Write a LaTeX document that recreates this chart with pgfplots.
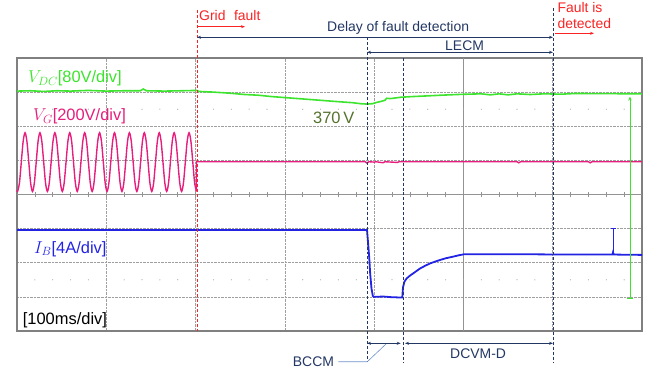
\documentclass[border=0pt]{standalone}
\usepackage{pgfplots}
\pgfplotsset{compat=1.18}
\usepackage{fontspec}
\setmainfont{Liberation Sans}
\usetikzlibrary{arrows.meta}
\definecolor{vdc}{RGB}{60,228,45}
\definecolor{vg}{RGB}{230,30,125}
\definecolor{ib}{RGB}{35,35,228}
\definecolor{navy}{RGB}{35,55,100}
\definecolor{fred}{RGB}{250,35,35}
\definecolor{olivetxt}{RGB}{85,115,45}
\definecolor{callout}{RGB}{110,145,200}
\definecolor{framec}{RGB}{128,128,128}
\newcommand\fa{\fontsize{14}{16}\selectfont}
\newcommand\fb{\fontsize{16.5}{18}\selectfont}
\begin{document}
\begin{tikzpicture}[x=1bp,y=1bp]
\path[use as bounding box] (0,0) rectangle (650,371);
\begin{axis}[at={(17bp,40bp)}, anchor=south west,
  width=625bp, height=273bp, scale only axis,
  xmin=0, xmax=700, ymin=-4, ymax=4,
  xtick={100,200,...,600}, ytick={-3,-2,...,3},
  xticklabel=\empty, yticklabel=\empty,
  tick style={draw=none},
  grid=major, grid style={densely dotted, gray!75, line width=0.6pt},
  axis line style={draw=framec, line width=1.4pt},
  clip=false]
% centre lines and ticks
\draw[gray!85, line width=0.8pt] (axis cs:0,0) -- (axis cs:700,0);
\draw[gray!85, line width=0.8pt] (axis cs:500,-4) -- (axis cs:500,4);
\pgfplotsinvokeforeach{20,40,...,680}{
  \draw[gray!85, line width=0.6pt] (axis cs:#1,-0.08) -- (axis cs:#1,0.08);
  \fill[gray!70] (axis cs:#1,2.5) circle (0.6bp);
  \fill[gray!70] (axis cs:#1,-2.5) circle (0.6bp);
}
% V_DC
\addplot[vdc, line width=1.6pt] coordinates {
(0,3.03)(15,3.04)(30,3.02)(45,3.04)(60,3.03)(80,3.05)(100,3.03)(120,3.04)(138,3.04)(141.5,3.09)(145,3.04)(165,3.03)(185,3.04)(201,3.05)(204,3.02)(220,3.0)(238,2.97)(255,2.93)(270,2.91)(285,2.87)(300,2.84)(315,2.81)(330,2.78)(350,2.74)(365,2.71)(376,2.69)(385,2.66)(392,2.65)(398,2.66)(403,2.70)(408,2.73)(412,2.76)(414,2.82)(418,2.81)(430,2.85)(443,2.87)(460,2.89)(475,2.91)(493,2.93)(505,2.94)(520,2.95)(530,2.92)(540,2.95)(550,2.92)(560,2.95)(575,2.93)(590,2.95)(610,2.94)(625,2.96)(700,2.95)};
% V_G sine before the fault
\addplot[vg, line width=1.4pt, smooth] coordinates {
(0,0.12)(0.65,0.09)(2.74,0.34)(4.82,0.95)(6.91,1.56)
(9,1.81)(11.09,1.56)(13.18,0.95)(15.26,0.34)(17.35,0.09)(19.44,0.34)(21.53,0.95)(23.61,1.56)
(25.7,1.81)(27.79,1.56)(29.88,0.95)(31.96,0.34)(34.05,0.09)(36.14,0.34)(38.23,0.95)(40.31,1.56)
(42.4,1.81)(44.49,1.56)(46.58,0.95)(48.66,0.34)(50.75,0.09)(52.84,0.34)(54.93,0.95)(57.01,1.56)
(59.1,1.81)(61.19,1.56)(63.28,0.95)(65.36,0.34)(67.45,0.09)(69.54,0.34)(71.63,0.95)(73.71,1.56)
(75.8,1.81)(77.89,1.56)(79.98,0.95)(82.06,0.34)(84.15,0.09)(86.24,0.34)(88.33,0.95)(90.41,1.56)
(92.5,1.81)(94.59,1.56)(96.68,0.95)(98.76,0.34)(100.85,0.09)(102.94,0.34)(105.03,0.95)(107.11,1.56)
(109.2,1.81)(111.29,1.56)(113.38,0.95)(115.46,0.34)(117.55,0.09)(119.64,0.34)(121.73,0.95)(123.81,1.56)
(125.9,1.81)(127.99,1.56)(130.08,0.95)(132.16,0.34)(134.25,0.09)(136.34,0.34)(138.43,0.95)(140.51,1.56)
(142.6,1.81)(144.69,1.56)(146.78,0.95)(148.86,0.34)(150.95,0.09)(153.04,0.34)(155.13,0.95)(157.21,1.56)
(159.3,1.81)(161.39,1.56)(163.48,0.95)(165.56,0.34)(167.65,0.09)(169.74,0.34)(171.83,0.95)(173.91,1.56)
(176,1.81)(178.09,1.56)(180.18,0.95)(182.26,0.34)(184.35,0.09)(186.44,0.34)(188.53,0.95)(190.61,1.56)
(192.7,1.81)(194.79,1.56)(196.88,0.95)(198.96,0.34)(201.05,0.09)};
% V_G after the fault
\addplot[vg, line width=1.4pt] coordinates {
(201.05,0.09)(201.05,0.96)(390,0.96)(392,0.92)(394,0.96)(400,0.95)(402,0.96)(410,0.93)(412,0.96)(426,0.94)(428,0.96)(560,0.96)(562,0.93)(564,0.96)(640,0.96)(642,0.93)(644,0.96)(700,0.96)};
% I_B
\addplot[ib, line width=1.8pt] coordinates {
(0,-1.04)(392,-1.04)(392.5,-1.2)(393.3,-1.45)(394.5,-1.85)(395.5,-2.3)(397,-2.75)(398.5,-2.97)(399.5,-3.0)(410,-2.99)(420,-3.01)(431.5,-3.02)(432.3,-2.72)(434,-2.55)(436.4,-2.46)(440,-2.38)(443.8,-2.31)(451.3,-2.17)(457,-2.09)(462.5,-2.02)(468,-1.97)(473.7,-1.92)(480,-1.87)(488.6,-1.82)(495,-1.78)(501,-1.75)(560,-1.75)(620,-1.76)(667,-1.76)(667.5,-1.70)(668.5,-1.76)(700,-1.77)};
% cursors
\addplot[ib, line width=0.7pt] coordinates {(667.8,-1.72)(667.8,-1.0)};
\addplot[ib, line width=0.7pt] coordinates {(665.3,-1.0)(670.5,-1.0)};
\addplot[vdc, line width=0.9pt, -{Stealth[length=4pt,width=3.5pt]}] coordinates {(686.5,-3.04)(686.5,2.87)};
\addplot[vdc, line width=0.9pt] coordinates {(683,-3.04)(690,-3.04)};
\end{axis}
% scope labels
\node[vdc, anchor=base west, font=\fb, inner sep=0] at (28,288.3) {$V_{DC}$[80V/div]};
\node[vg, anchor=base west, font=\fb, inner sep=0] at (33,250.3) {$V_G$[200V/div]};
\node[ib, anchor=base west, font=\fb, inner sep=0] at (34,118) {$I_B$[4A/div]};
\node[black, anchor=base west, font=\fb, inner sep=0] at (22.7,46.5) {[100ms/div]};
\node[olivetxt, anchor=base west, font=\fb, inner sep=0] at (313,248) {370\,V};
% annotations
\draw[fred, dash pattern=on 3pt off 2pt, line width=0.8pt] (197,361) -- (197,40);
\node[fred, anchor=base west, font=\fa, inner sep=0] at (199,350.5) {Grid\,\, fault};
\draw[fred, line width=0.8pt, -{Stealth[length=4pt,width=3pt]}] (197,344.3) -- (245,344.3);
\node[navy, anchor=base west, font=\fa, inner sep=0] at (327,340) {Delay of fault detection};
\draw[navy, line width=0.9pt, {Stealth[length=4pt,width=3pt]}-{Stealth[length=4pt,width=3pt]}] (197,333.7) -- (553,333.7);
\node[navy, anchor=base west, font=\fa, inner sep=0] at (445,320.8) {LECM};
\draw[navy, line width=0.9pt, {Stealth[length=4pt,width=3pt]}-{Stealth[length=4pt,width=3pt]}] (367,318.7) -- (553,318.7);
\node[fred, anchor=base west, font=\fa, inner sep=0] at (557.3,359) {Fault is};
\node[fred, anchor=base west, font=\fa, inner sep=0] at (557.3,343) {detected};
\draw[fred, line width=0.8pt, -{Stealth[length=4pt,width=3pt]}] (555,337.7) -- (594,337.7);
\draw[navy, dash pattern=on 3pt off 2pt, line width=0.8pt] (553,363) -- (553,8);
\draw[navy, dash pattern=on 3pt off 2pt, line width=0.8pt] (367,333.7) -- (367,9.3);
\draw[navy, dash pattern=on 3pt off 2pt, line width=0.8pt] (403,313) -- (403,8);
\draw[navy, line width=0.9pt, {Stealth[length=4pt,width=3pt]}-{Stealth[length=4pt,width=3pt]}] (367,27.7) -- (400.7,27.7);
\draw[navy, line width=0.9pt, {Stealth[length=4pt,width=3pt]}-{Stealth[length=4pt,width=3pt]}] (405,27.7) -- (553,27.7);
\node[navy, anchor=base west, font=\fa, inner sep=0] at (450,13) {DCVM-D};
\node[navy, anchor=base west, font=\fa, inner sep=0] at (292.7,5) {BCCM};
\draw[callout, line width=0.6pt] (338.3,9.3) -- (367.3,9.3) -- (386,27);
\end{tikzpicture}
\end{document}
